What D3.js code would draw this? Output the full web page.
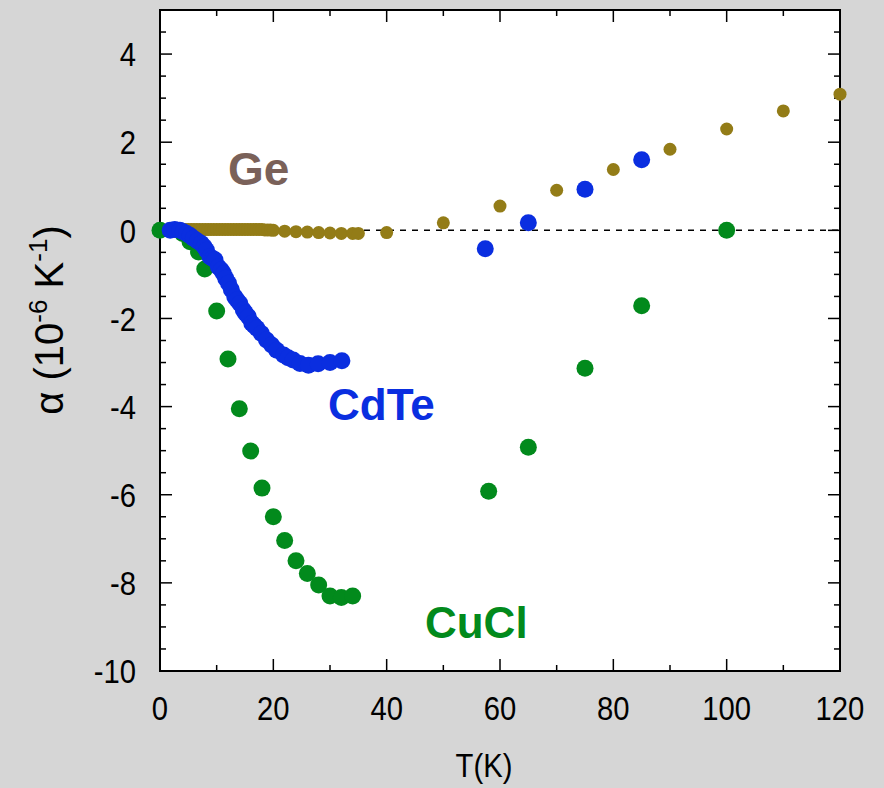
<!DOCTYPE html>
<html>
<head>
<meta charset="utf-8">
<script src="https://cdn.jsdelivr.net/npm/d3@7"></script>
<style>
  html, body { margin: 0; padding: 0; background: #d6d6d6; }
  svg { display: block; }
</style>
</head>
<body>
<div id="main"></div>
<script>
// Ge
const geT = [3, 3.5, 4, 4.5, 5, 5.5, 6, 6.5, 7, 7.5, 8, 8.5, 9, 9.5, 10, 10.5, 11, 11.5, 12, 12.5, 13, 13.5, 14, 14.5, 15, 15.5, 16, 16.5, 17, 17.5, 18, 18.5, 19, 19.5, 20,
             22, 24, 26, 28, 30, 32, 34, 35, 40, 50, 60, 70, 80, 90, 100, 110, 120];
const geA = [0.02, 0.02, 0.02, 0.02, 0.02, 0.02, 0.02, 0.02, 0.02, 0.02, 0.02, 0.02, 0.02, 0.02, 0.02, 0.02, 0.02, 0.02, 0.02, 0.02, 0.02, 0.02, 0.02, 0.02, 0.02, 0.02, 0.02, 0.02, 0.02, 0.02, 0.02, 0.01, 0.01, 0.01, 0.0,
             -0.02, -0.03, -0.04, -0.05, -0.06, -0.07, -0.07, -0.07, -0.05, 0.17, 0.55, 0.91, 1.38, 1.84, 2.30, 2.71, 3.09];

// CdTe
const cdT = [1.8, 2.6, 3.5, 4.1, 4.7, 5.3, 5.9, 6.6, 7.3, 7.8, 8.2, 8.8, 9.3, 9.7, 10.3, 10.8, 11.2, 11.6, 12.1, 12.6, 13.2, 13.6, 14.1, 14.7, 15.1, 15.6, 16.2, 16.6, 17.1, 17.9, 18.8, 19.7, 20.6, 21.8, 22.6, 23.5, 24.7, 26.2, 27.9, 30.0, 32.1,
             57.4, 65, 75, 85];
const cdA = [0.0, 0.02, 0.0, -0.03, -0.07, -0.12, -0.18, -0.24, -0.30, -0.37, -0.45, -0.6, -0.64, -0.67, -0.83, -0.9, -0.98, -1.09, -1.2, -1.35, -1.51, -1.58, -1.66, -1.81, -1.88, -1.96, -2.11, -2.16, -2.22, -2.34, -2.49, -2.60, -2.72, -2.83, -2.89, -2.94, -3.02, -3.06, -3.03, -3.0, -2.96,
             -0.42, 0.17, 0.93, 1.60];

// CuCl
const cuT = [0, 4, 5.3, 6.8, 7.9, 10, 12, 14, 16, 18, 20, 22, 24, 26, 28, 30, 32, 34,
             58, 65, 75, 85, 100];
const cuA = [0, -0.07, -0.26, -0.49, -0.88, -1.83, -2.92, -4.05, -5.01, -5.85, -6.5, -7.04, -7.5, -7.79, -8.05, -8.3, -8.33, -8.3,
             -5.92, -4.92, -3.13, -1.71, 0.0];

const xTicks = [0, 20, 40, 60, 80, 100, 120];
const yTicks = [4, 2, 0, -2, -4, -6, -8, -10];

const width = 884;
const height = 788;
const margin = ({top: 10, right: 44, bottom: 117, left: 160});

const x = d3.scaleLinear()
    .domain([0, 120])
    .range([margin.left, width - margin.right]);

const y = d3.scaleLinear()
    .domain([-10, 5])
    .range([height - margin.bottom, margin.top]);

const svg = d3.create("svg")
    .attr("width", width)
    .attr("height", height)
    .attr("viewBox", [0, 0, width, height]);

svg.append("rect")
    .attr("width", width).attr("height", height)
    .attr("fill", "#d6d6d6");

svg.append("rect")
    .attr("x", x(0)).attr("y", y(5))
    .attr("width", x(120) - x(0)).attr("height", y(-10) - y(5))
    .attr("fill", "white");

// zero line
svg.append("line")
    .attr("x1", x(0)).attr("x2", x(120))
    .attr("y1", y(0)).attr("y2", y(0))
    .attr("stroke", "black")
    .attr("stroke-width", 1.5)
    .attr("stroke-dasharray", "6,6");

const font = "'Liberation Sans', Arial, sans-serif";
const squeeze = 0.86;

// inward ticks on all four sides
const xMinor = d3.range(0, 121, 10);
const yMinor = d3.range(-10, 5.01, 0.5);

const ticks = svg.append("g").attr("stroke", "black").attr("stroke-width", 1.5);
xMinor.forEach(v => {
    const len = v % 20 === 0 ? 12 : 6;
    ticks.append("line").attr("x1", x(v)).attr("x2", x(v)).attr("y1", y(-10)).attr("y2", y(-10) - len);
    ticks.append("line").attr("x1", x(v)).attr("x2", x(v)).attr("y1", y(5)).attr("y2", y(5) + len);
});
yMinor.forEach(v => {
    const len = Math.abs(v % 2) < 1e-9 ? 12 : 6;
    ticks.append("line").attr("x1", x(0)).attr("x2", x(0) + len).attr("y1", y(v)).attr("y2", y(v));
    ticks.append("line").attr("x1", x(120)).attr("x2", x(120) - len).attr("y1", y(v)).attr("y2", y(v));
});

// x tick labels
svg.append("g")
    .selectAll("text")
    .data(xTicks)
    .join("text")
    .attr("transform", d => `translate(${x(d)},${y(-10) + 49}) scale(${squeeze},1)`)
    .attr("text-anchor", "middle")
    .attr("font-family", font)
    .attr("font-size", 34)
    .text(d => d);

// y tick labels
svg.append("g")
    .selectAll("text")
    .data(yTicks)
    .join("text")
    .attr("transform", d => `translate(${x(0) - 24},${y(d)}) scale(${squeeze},1)`)
    .attr("dy", "0.36em")
    .attr("text-anchor", "end")
    .attr("font-family", font)
    .attr("font-size", 34)
    .text(d => d);

// frame
svg.append("rect")
    .attr("x", x(0)).attr("y", y(5))
    .attr("width", x(120) - x(0)).attr("height", y(-10) - y(5))
    .attr("fill", "none")
    .attr("stroke", "black")
    .attr("stroke-width", 2);

// axis titles
svg.append("text")
    .attr("transform", `translate(484,777) scale(${squeeze},1)`)
    .attr("text-anchor", "middle")
    .attr("font-family", font)
    .attr("font-size", 34)
    .text("T(K)");

const yl = svg.append("text")
    .attr("transform", "translate(63,320) rotate(-90)")
    .attr("text-anchor", "middle")
    .attr("font-family", font)
    .attr("font-size", 40);
yl.append("tspan").text("α (10");
yl.append("tspan").attr("dy", -16).attr("font-size", 26).text("-6");
yl.append("tspan").attr("dy", 16).text(" K");
yl.append("tspan").attr("dy", -16).attr("font-size", 26).text("-1");
yl.append("tspan").attr("dy", 16).text(")");

// points
const series = [
    {t: geT, a: geA, color: "#937c17", r: 6.5},
    {t: cuT, a: cuA, color: "#028a1c", r: 8.5},
    {t: cdT, a: cdA, color: "#0a2ee0", r: 8.5}
];

series.forEach(s => {
    svg.append("g")
        .selectAll("circle")
        .data(s.t.map((t, i) => [t, s.a[i]]))
        .join("circle")
        .attr("cx", d => x(d[0]))
        .attr("cy", d => y(d[1]))
        .attr("r", s.r)
        .attr("fill", s.color);
});

// series labels
const labels = [
    {text: "Ge", t: 12.0, a: 1.03, size: 46, color: "#7a6159"},
    {text: "CdTe", t: 29.65, a: -4.30, size: 44, color: "#0a2ee0"},
    {text: "CuCl", t: 46.76, a: -9.25, size: 44, color: "#028a1c"}
];
svg.append("g")
    .selectAll("text")
    .data(labels)
    .join("text")
    .attr("x", d => x(d.t))
    .attr("y", d => y(d.a))
    .attr("text-anchor", "start")
    .attr("font-family", font)
    .attr("font-weight", "bold")
    .attr("font-size", d => d.size)
    .attr("fill", d => d.color)
    .text(d => d.text);

d3.select("#main").append(() => svg.node());
</script>
</body>
</html>
